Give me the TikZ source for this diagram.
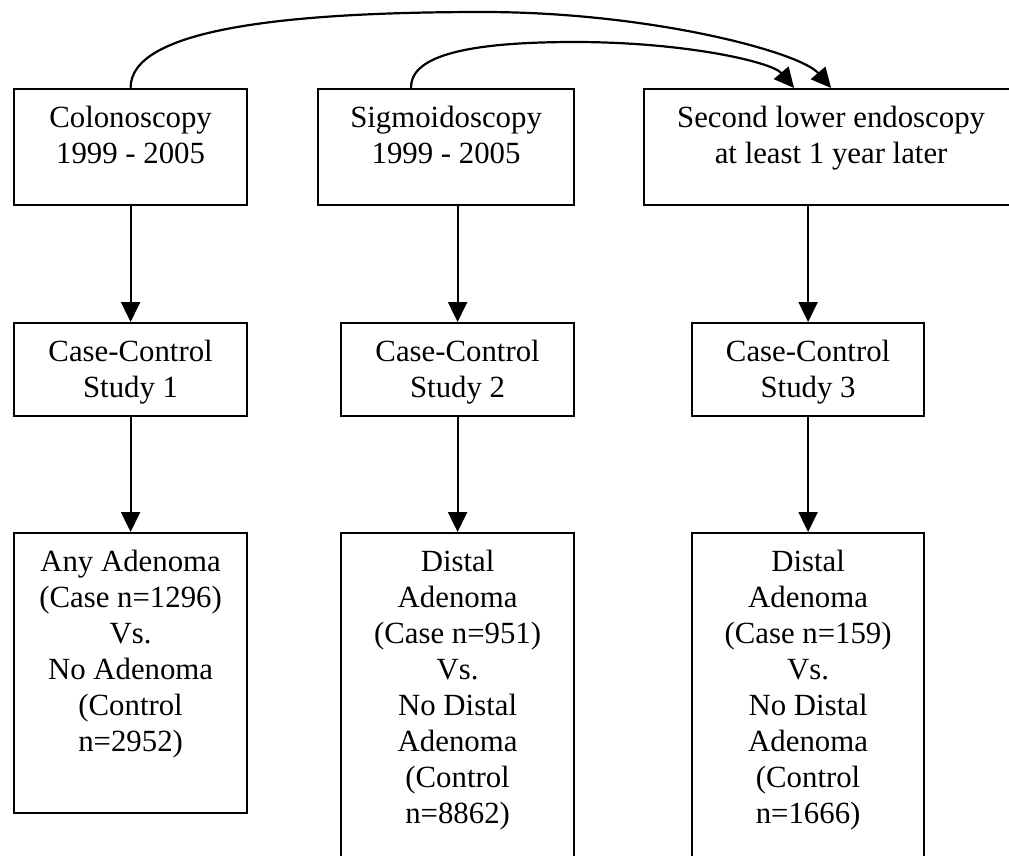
\documentclass[tikz,border=0pt]{standalone}
\usepackage{fontspec}
\setmainfont{Liberation Serif}
\usetikzlibrary{arrows.meta,calc}
\begin{document}
\begin{tikzpicture}[x=1pt,y=-1pt,
  box/.style={draw,line width=2.2pt,anchor=north west,inner sep=0pt,minimum width=#1},
  txt/.style={anchor=base,align=center,inner sep=0pt,font=\fontsize{30.8}{36}\selectfont},
  arr/.style={line width=2.2pt,-{Triangle[length=20pt,width=19pt]}}]
\clip (0,0) rectangle (1009,855);
\fill[white] (0,0) rectangle (1009,855);
% row 1
\node[box=233pt,minimum height=116pt] (A) at (13,88) {};
\node[box=256pt,minimum height=116pt] (B) at (317,88) {};
\node[box=374pt,minimum height=116pt] (C) at (643,88) {};
% row 2
\node[box=233pt,minimum height=93pt] (D) at (13,322) {};
\node[box=233pt,minimum height=93pt] (E) at (340,322) {};
\node[box=232pt,minimum height=93pt] (F) at (691,322) {};
% row 3
\node[box=233pt,minimum height=280pt] (G) at (13,532) {};
\node[box=233pt,minimum height=352pt] (H) at (340,532) {};
\node[box=232pt,minimum height=352pt] (I) at (691,532) {};
% texts (anchor base = baseline of last line)
\node[txt] (At) at ($(A.north)+(0,75)$) {Colonoscopy\\1999 - 2005};
\node[txt] (Bt) at ($(B.north)+(0,75)$) {Sigmoidoscopy\\1999 - 2005};
\node[txt] (Ct) at ($(C.north)+(0,75)$) {Second lower endoscopy\\at least 1 year later};
\node[txt] (Dt) at ($(D.north)+(0,75)$) {Case-Control\\Study 1};
\node[txt] (Et) at ($(E.north)+(0,75)$) {Case-Control\\Study 2};
\node[txt] (Ft) at ($(F.north)+(0,75)$) {Case-Control\\Study 3};
\node[txt] (Gt) at ($(G.north)+(0,219)$) {Any Adenoma\\(Case n=1296)\\Vs.\\No Adenoma\\(Control\\n=2952)};
\node[txt] (Ht) at ($(H.north)+(0,291)$) {Distal\\Adenoma\\(Case n=951)\\Vs.\\No Distal\\Adenoma\\(Control\\n=8862)};
\node[txt] (It) at ($(I.north)+(0,291)$) {Distal\\Adenoma\\(Case n=159)\\Vs.\\No Distal\\Adenoma\\(Control\\n=1666)};
% vertical arrows
\draw[arr] (A.south) -- (D.north);
\draw[arr] (B.south -| E.north) -- (E.north);
\draw[arr] (C.south -| F.north) -- (F.north);
\draw[arr] (D.south) -- (G.north);
\draw[arr] (E.south) -- (H.north);
\draw[arr] (F.south) -- (I.north);
% curved arrows
\draw[arr] (A.north) .. controls (130,30) and (280,12) .. (483,12)
  .. controls (650,12) and (800,52) .. (C.north);
\draw[arr] ($(B.north)+(-35,0)$) .. controls (410,55) and (470,42) .. (575,42)
  .. controls (685,42) and (772,62) .. ($(C.north)+(-37,0)$);
\end{tikzpicture}
\end{document}
